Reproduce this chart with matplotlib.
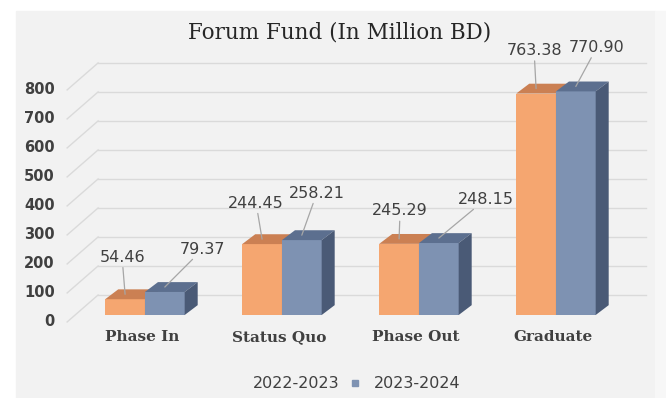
import matplotlib.pyplot as plt
from matplotlib.patches import Polygon, Rectangle

categories = ["Phase In", "Status Quo", "Phase Out", "Graduate"]
fund_2022 = [54.46, 244.45, 245.29, 763.38]
fund_2023 = [79.37, 258.21, 248.15, 770.90]
y_ticks = [0, 100, 200, 300, 400, 500, 600, 700, 800]

# face colours: front, top, side
orange = ("#F5A670", "#CB8053", "#B86F45")
slate = ("#7E92B2", "#5C6F8F", "#4A5A76")

# fake 3D geometry in data units
W = 0.29              # bar width
DX, DY = 0.095, 34    # bar depth offset
BX, BY = 0.168, 69    # back wall offset
FX, FY = -0.058, -24  # floor front offset
X_LEFT, X_RIGHT = -0.51, 3.49

fig = plt.figure(figsize=(6.66, 3.98), dpi=100)
fig.patch.set_facecolor("white")
fig.patches.append(Rectangle((16 / 666, 0), 639 / 666, 1 - 11 / 398,
                             transform=fig.transFigure, color="#F2F2F2", zorder=-2))
fig.patches.append(Rectangle((655 / 666, 0), 11 / 666, 1 - 11 / 398,
                             transform=fig.transFigure, color="#F7F7F7", zorder=-2))

ax = fig.add_axes([20 / 666, 1 - 330 / 398, 635 / 666, 310 / 398])
ax.set_facecolor("none")
ax.set_xlim(-0.912, 3.723)
ax.set_ylim(-51.7, 1017)
ax.axis("off")

# back wall and side wall gridlines
for v in y_ticks:
    ax.plot([X_LEFT + BX, X_RIGHT + BX], [v + BY, v + BY], color="#DADADA", lw=1, zorder=1)
    ax.plot([X_LEFT + FX, X_LEFT + BX], [v + FY, v + BY], color="#DADADA", lw=1, zorder=1)
    ax.text(X_LEFT + FX - 0.09, v + FY, str(v), ha="right", va="center",
            fontsize=10.5, fontweight="bold", color="#404040", family="DejaVu Sans")


def bar3d(x0, v, colors):
    front, top, side = colors
    ax.add_patch(Polygon([(x0, 0), (x0 + W, 0), (x0 + W, v), (x0, v)],
                         closed=True, facecolor=front, edgecolor="none", zorder=3))
    ax.add_patch(Polygon([(x0, v), (x0 + W, v), (x0 + W + DX, v + DY), (x0 + DX, v + DY)],
                         closed=True, facecolor=top, edgecolor="none", zorder=3))
    ax.add_patch(Polygon([(x0 + W, 0), (x0 + W, v), (x0 + W + DX, v + DY), (x0 + W + DX, DY)],
                         closed=True, facecolor=side, edgecolor="none", zorder=3))


for i in range(len(categories)):
    bar3d(i - W, fund_2022[i], orange)
    bar3d(i, fund_2023[i], slate)
    ax.text(i - 0.02, -76, categories[i], ha="center", va="center", fontsize=11,
            fontweight="bold", color="#404040", family="DejaVu Serif")

# data labels with leader lines
offsets_2022 = [(-3, 37), (-6, 36), (1, 28), (-2, 38)]
offsets_2023 = [(38, 38), (15, 42), (47, 39), (21, 39)]
for i in range(len(categories)):
    for x0, v, off in [(i - W, fund_2022[i], offsets_2022[i]),
                       (i, fund_2023[i], offsets_2023[i])]:
        ax.annotate(f"{v:.2f}", xy=(x0 + W / 2, v + DY / 2), xytext=off,
                    textcoords="offset pixels", ha="center", va="center",
                    fontsize=11.5, color="#404040", zorder=5,
                    arrowprops=dict(arrowstyle="-", color="#A6A6A6", lw=0.9,
                                    shrinkA=0, shrinkB=0))

fig.text(340 / 666, 1 - 32 / 398, "Forum Fund (In Million BD)", ha="center", va="center",
         fontsize=15.5, color="#262626", family="DejaVu Serif")

# legend
fig.text(296 / 666, 1 - 383 / 398, "2022-2023", ha="center", va="center",
         fontsize=11.5, color="#404040")
fig.patches.append(Rectangle((352 / 666, 1 - 386 / 398), 6 / 666, 6 / 398,
                             transform=fig.transFigure, color=slate[0], zorder=2))
fig.text(417 / 666, 1 - 383 / 398, "2023-2024", ha="center", va="center",
         fontsize=11.5, color="#404040")

fig.savefig("out.png", dpi=100)
